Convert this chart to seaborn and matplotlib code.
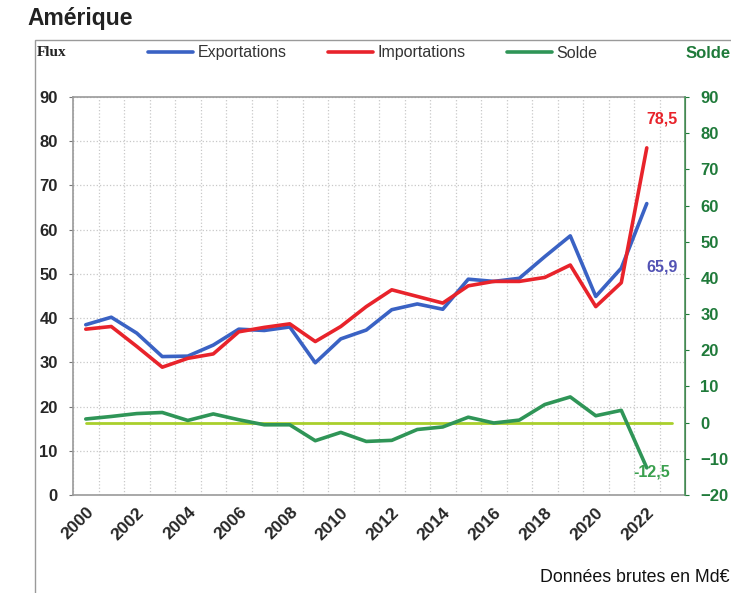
import pandas as pd
import numpy as np
import matplotlib.pyplot as plt
import seaborn as sns
from matplotlib.lines import Line2D
from matplotlib.patches import Rectangle

# Données (Md€)
annees = list(range(2000, 2023))
exportations = [38.5, 40.2, 36.6, 31.3, 31.4, 33.9, 37.5, 37.2, 38.0, 29.9, 35.3, 37.3,
                41.9, 43.2, 42.0, 48.8, 48.3, 49.0, 53.9, 58.6, 44.9, 51.3, 65.9]
importations = [37.5, 38.1, 33.6, 28.9, 30.9, 31.9, 36.9, 37.9, 38.7, 34.7, 38.1, 42.6,
                46.4, 44.9, 43.4, 47.3, 48.3, 48.3, 49.2, 52.0, 42.6, 48.0, 78.5]
solde = [1.0, 1.7, 2.5, 2.8, 0.6, 2.4, 0.8, -0.6, -0.6, -5.0, -2.7, -5.2,
         -4.9, -1.9, -1.2, 1.5, -0.1, 0.7, 5.0, 7.1, 1.9, 3.4, -12.5]

couleurs = {'Exportations': '#3a62c4', 'Importations': '#e8232b', 'Solde': '#2f9557'}
vert_zero = '#a9cf2c'
vert_axe = '#1f7a3a'

df = pd.DataFrame({'annee': annees, 'Exportations': exportations,
                   'Importations': importations, 'Solde': solde})
df['pos'] = np.arange(len(df))
flux = df.melt(id_vars=['annee', 'pos'], value_vars=['Exportations', 'Importations'],
               var_name='serie', value_name='valeur')

sns.set_style('white')
plt.rcParams['font.family'] = ['Liberation Sans Narrow', 'Liberation Sans', 'DejaVu Sans']

fig = plt.figure(figsize=(7.31, 5.93), dpi=100)
ax = fig.add_axes([0.0999, 0.1653, 0.8372, 0.6711])

# cadre extérieur
fig.patches.append(Rectangle((35 / 731, -0.01), 1.0, 1 - 40 / 593 + 0.01,
                             transform=fig.transFigure, fill=False,
                             edgecolor='#9a9a9a', lw=1.0))

sns.lineplot(data=flux, x='pos', y='valeur', hue='serie', palette=couleurs,
             linewidth=2.6, ax=ax, legend=False)
ax.set_xlim(-0.5, 23.5)
ax.set_ylim(0, 90)
ax.set_yticks(range(0, 91, 10))
ax.set_xticks(range(0, 23, 2))
ax.set_xticklabels([str(a) for a in annees[::2]], rotation=45, ha='right',
                   va='top', rotation_mode='anchor', fontsize=12.5, fontweight='bold')
ax.set_xticks(np.arange(-0.5, 24, 1), minor=True)
ax.tick_params(axis='x', which='both', length=0, pad=7)
ax.tick_params(axis='y', labelsize=12, length=3, color='#777777', direction='out', pad=8)
for t in ax.get_yticklabels():
    t.set_fontweight('bold')
ax.grid(which='minor', axis='x', linestyle=':', color='#c8c8c8', lw=0.9)
ax.grid(which='major', axis='y', linestyle=':', color='#c8c8c8', lw=0.9)
ax.set_xlabel('')
ax.set_ylabel('')
for s in ['left', 'top', 'bottom']:
    ax.spines[s].set_color('#9a9a9a')
    ax.spines[s].set_linewidth(1.2)

# axe de droite : solde
ax2 = ax.twinx()
ax2.axhline(0, xmin=0.5 / 24, xmax=23.5 / 24, color=vert_zero, lw=2.0)
sns.lineplot(data=df, x='pos', y='Solde', color=couleurs['Solde'], linewidth=2.6,
             ax=ax2, legend=False)
ax2.set_ylim(-20, 90)
ax2.set_yticks(range(-20, 91, 10))
ax2.set_ylabel('')
ax2.tick_params(axis='y', labelsize=12, length=3, color=vert_axe, labelcolor=vert_axe, pad=8)
for t in ax2.get_yticklabels():
    t.set_fontweight('bold')
ax2.spines['right'].set_color('#4f9a5f')
ax2.spines['right'].set_linewidth(1.2)
for s in ['left', 'top', 'bottom']:
    ax2.spines[s].set_visible(False)
ax.set_xlim(-0.5, 23.5)

# étiquettes des dernières valeurs
ax.text(22.6, 78.5 + 5.5, '78,5', color=couleurs['Importations'], fontsize=11.5,
        fontweight='bold', ha='center')
ax.text(22.6, 50.5, '65,9', color='#5252b4', fontsize=11.5, fontweight='bold', ha='center')
ax2.text(22.2, -14.8, '-12,5', color='#3aa04e', fontsize=11.5, fontweight='bold', ha='center')

# légende et titres d'axes
handles = [Line2D([], [], color=couleurs[k], lw=2.6) for k in ['Exportations', 'Importations', 'Solde']]
fig.legend(handles, ['Exportations', 'Importations', 'Solde'], loc='center',
           bbox_to_anchor=(0.51, 1 - 53 / 593), ncol=3, frameon=False, fontsize=11.5,
           handlelength=2.8, handletextpad=0.3, columnspacing=2.6, labelcolor='#333333')
fig.text(37 / 731, 1 - 53 / 593, 'Flux', fontsize=11, fontweight='bold', va='center',
         family=['Liberation Serif', 'DejaVu Serif'], color='#222222')
fig.text(686 / 731, 1 - 53 / 593, 'Solde', fontsize=12, fontweight='bold', va='center',
         color=vert_axe)
fig.text(27 / 731, 1 - 19 / 593, 'Amérique', fontsize=16.5, fontweight='bold', va='center',
         family=['Liberation Sans', 'DejaVu Sans'], color='#222222')
fig.text(540 / 731, 1 - 578 / 593, 'Données brutes en Md€', fontsize=12.8, va='center',
         family=['Liberation Sans', 'DejaVu Sans'], color='#111111')

fig.savefig('out.png', dpi=100)
